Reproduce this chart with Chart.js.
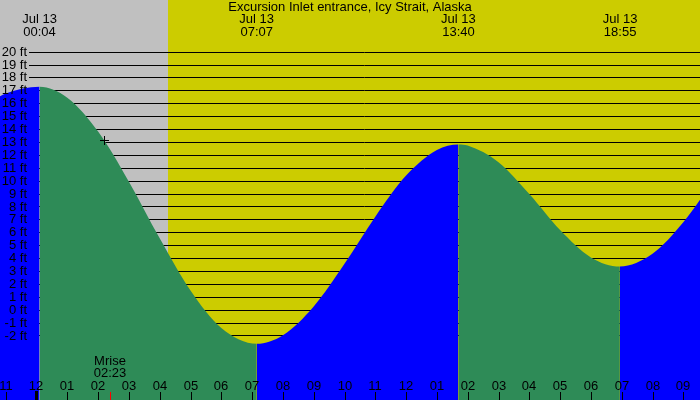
<!DOCTYPE html>
<html>
<head>
<meta charset="utf-8">
<script src="https://cdn.jsdelivr.net/npm/chart.js@4/dist/chart.umd.min.js"></script>
<style>
  body { margin: 0; background: #fff; }
  canvas { display: block; }
</style>
</head>
<body>
<canvas id="tide" width="700" height="400"></canvas>
<script>
// hours after midnight Jul 13, tide height in feet
const hours   = [-1.5, -1, 0.1, 1, 2, 3, 4, 5, 6, 7.15, 8, 9, 10, 11, 12, 13, 13.7, 14, 15, 16, 17, 18, 18.94, 20, 21, 22];
const heights = [16.1, 16.75, 17.27, 16.42, 13.8, 9.92, 5.53, 1.48, -1.42, -2.64, -1.98, 0.25, 3.56, 7.21, 10.39, 12.38, 12.8, 12.72, 11.43, 8.96, 6.17, 4.05, 3.35, 4.33, 6.77, 10.07];

const extremeTimes = ['00:04', '07:07', '13:40', '18:55'];
const extremeDate = 'Jul 13';

const feetLevels = [20, 19, 18, 17, 16, 15, 14, 13, 12, 11, 10, 9, 8, 7, 6, 5, 4, 3, 2, 1, 0, -1, -2];
const tickHours  = [-1, 0, 1, 2, 3, 4, 5, 6, 7, 8, 9, 10, 11, 12, 13, 14, 15, 16, 17, 18, 19, 20, 21];
const tickLabels = ['11', '12', '01', '02', '03', '04', '05', '06', '07', '08', '09', '10', '11', '12', '01', '02', '03', '04', '05', '06', '07', '08', '09'];

const sunrise = '04:16';
const moonrise = '02:23';
const title = 'Excursion Inlet entrance, Icy Strait, Alaska';

const toHours = t => { const [h, m] = t.split(':').map(Number); return h + m / 60; };

const FONT = '13px "Liberation Sans", Arial, sans-serif';
const NIGHT = '#c0c0c0', DAY = '#cccc00', FALL = '#2e8b57', RISE = '#0000ff';

const tidePlugin = {
  id: 'tide',
  beforeDraw(chart) {
    const { ctx, chartArea: a, scales: { x, y } } = chart;
    ctx.save();
    ctx.fillStyle = NIGHT;
    ctx.fillRect(a.left, a.top, a.right - a.left, a.bottom - a.top);
    const sx = Math.round(x.getPixelForValue(toHours(sunrise)));
    ctx.fillStyle = DAY;
    ctx.fillRect(sx, a.top, a.right - sx, a.bottom - a.top);
    ctx.strokeStyle = '#000';
    ctx.lineWidth = 1;
    feetLevels.forEach(f => {
      const py = Math.round(y.getPixelForValue(f)) + 0.5;
      ctx.beginPath();
      ctx.moveTo(29, py);
      ctx.lineTo(a.right, py);
      ctx.stroke();
    });
    ctx.restore();
  },
  afterDatasetsDraw(chart) {
    const { ctx, scales: { x, y } } = chart;
    ctx.save();
    ctx.font = FONT;
    ctx.fillStyle = '#000';
    // foot labels
    ctx.textAlign = 'right';
    ctx.textBaseline = 'middle';
    feetLevels.forEach(f => ctx.fillText(f + ' ft', 27, y.getPixelForValue(f) + 0.5));
    // title and extremes
    ctx.textAlign = 'center';
    ctx.fillText(title, 350, 7.5);
    extremeTimes.forEach(t => {
      const px = x.getPixelForValue(toHours(t)) + 1;
      ctx.fillText(extremeDate, px, 19.5);
      ctx.fillText(t, px, 32);
    });
    // hour axis
    tickHours.forEach((h, i) => {
      const px = Math.round(x.getPixelForValue(h));
      ctx.fillText(tickLabels[i], px, 386);
      if (h === 0) ctx.fillRect(px - 1, 391, 3, 9);
      else ctx.fillRect(px, 392, 1, 8);
    });
    // moonrise
    const mx = Math.round(x.getPixelForValue(toHours(moonrise)));
    ctx.fillText('Mrise', mx, 361);
    ctx.fillText(moonrise, mx, 373.5);
    ctx.fillStyle = '#ff0000';
    ctx.fillRect(mx, 392, 1, 8);
    // cursor cross
    ctx.fillStyle = '#000';
    ctx.fillRect(100, 140, 9, 1);
    ctx.fillRect(104, 136, 1, 9);
    ctx.restore();
  }
};

new Chart(document.getElementById('tide'), {
  type: 'line',
  data: {
    datasets: [{
      data: hours.map((h, i) => ({ x: h, y: heights[i] })),
      fill: 'start',
      borderWidth: 0,
      pointRadius: 0,
      cubicInterpolationMode: 'monotone',
      backgroundColor: RISE,
      segment: {
        backgroundColor: c => c.p1.parsed.y < c.p0.parsed.y ? FALL : RISE,
        borderColor: 'rgba(0,0,0,0)'
      },
      borderColor: 'rgba(0,0,0,0)'
    }]
  },
  options: {
    responsive: false,
    animation: false,
    devicePixelRatio: 1,
    layout: { padding: 0 },
    scales: {
      x: { type: 'linear', display: false, min: -36.5 / 30.8, max: 663.5 / 30.8 },
      y: { type: 'linear', display: false, min: -7, max: 24 }
    },
    plugins: { legend: { display: false }, tooltip: { enabled: false } }
  },
  plugins: [tidePlugin]
});
</script>
</body>
</html>
